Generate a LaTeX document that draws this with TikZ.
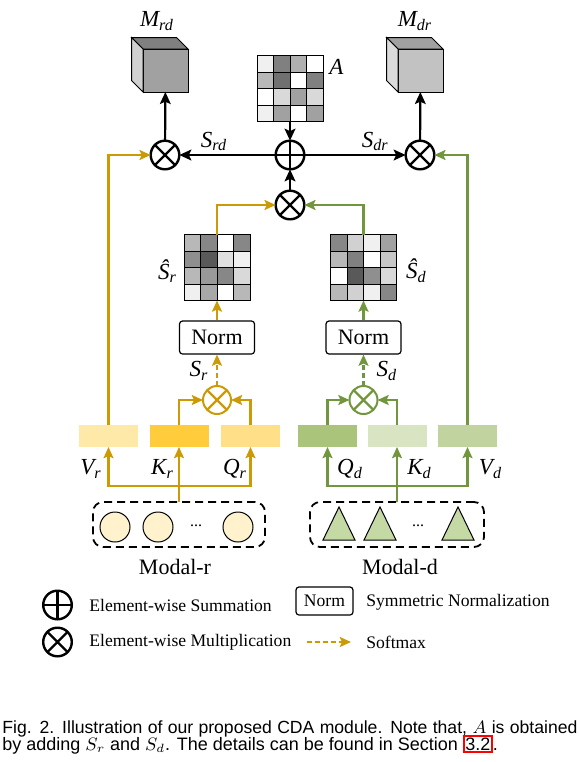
\documentclass[tikz,border=0pt]{standalone}
\usepackage{fontspec}
\setmainfont{Liberation Serif}
\newfontfamily\capfont{Liberation Sans}
\usetikzlibrary{arrows.meta,positioning,calc}

\definecolor{gold}{HTML}{CC9A06}
\definecolor{leaf}{HTML}{72963E}
\definecolor{vrfill}{HTML}{FFE9A8}
\definecolor{krfill}{HTML}{FFCD3C}
\definecolor{qrfill}{HTML}{FFDF88}
\definecolor{qdfill}{HTML}{ABC47C}
\definecolor{kdfill}{HTML}{D8E4C2}
\definecolor{vdfill}{HTML}{C1D49F}
\definecolor{tokfill}{HTML}{FFF2CC}
\definecolor{trifill}{HTML}{C5D9A4}

% 4x4 grey matrix drawn over a named node
\newcommand{\graygrid}[2]{%
  \foreach \rowvals [count=\r] in {#2} {
    \foreach \v [count=\q] in \rowvals
      \filldraw[cell, fill=black!\v] ($(#1.north west)+(\q*16.5-16.5,\r*16.5-16.5)$) rectangle ++(16.5,16.5);
  }}
% top and side faces of a cube whose front face is a node
\newcommand{\cubefaces}[3]{%
  \filldraw[edge, fill=#2] (#1.north west) -- ++(-11.5,-11.5) -- ++(45,0) -- (#1.north east) -- cycle;
  \filldraw[edge, fill=#3] (#1.north west) -- ++(-11.5,-11.5) -- ++(0,43) -- (#1.south west) -- cycle;}

\begin{document}
\begin{tikzpicture}[x=0.5pt, y=-0.5pt,
    >={Stealth[length=6pt,width=5.4pt,inset=1.2pt]},
    op/.style={circle, draw=#1, line width=1.2pt, minimum size=14.3pt, inner sep=0pt, outer sep=0pt},
    mul/.style={op=#1, path picture={\draw[#1, line width=1.2pt]
        (path picture bounding box.north west) -- (path picture bounding box.south east)
        (path picture bounding box.north east) -- (path picture bounding box.south west);}},
    mul/.default=black,
    smallmul/.style={mul=#1, line width=1pt, minimum size=14pt},
    add/.style={op=black, path picture={\draw[line width=1.2pt]
        (path picture bounding box.north) -- (path picture bounding box.south)
        (path picture bounding box.west) -- (path picture bounding box.east);}},
    conn/.style={line width=1.1pt, ->},
    goldline/.style={gold, line width=1.05pt, -{Stealth[length=5.6pt,width=5pt,inset=1.1pt]}},
    leafline/.style={leaf, line width=1.05pt, -{Stealth[length=5.6pt,width=5pt,inset=1.1pt]}},
    soft/.style={dash pattern=on 2.4pt off 1.6pt},
    face/.style={draw, line width=0.5pt, minimum width=22.5pt, minimum height=21.5pt, inner sep=0pt, outer sep=0pt},
    edge/.style={draw, line width=0.5pt},
    mat/.style={minimum size=33pt, inner sep=0pt, outer sep=0pt},
    cell/.style={draw=black, line width=0.5pt},
    bar/.style={minimum width=29.5pt, minimum height=11pt, inner sep=0pt, outer sep=0pt},
    norm/.style={draw, rounded corners=1.5pt, line width=0.6pt, minimum width=37.5pt, minimum height=16.5pt,
        inner sep=0pt, font=\fontsize{11}{13}\selectfont},
    modal/.style={draw, dash pattern=on 4pt off 2.5pt, line width=0.9pt, rounded corners=5pt,
        minimum width=86pt, minimum height=22.5pt, inner sep=0pt, outer sep=0pt},
    token/.style={circle, draw, line width=0.5pt, fill=tokfill, minimum size=15pt, inner sep=0pt},
    tri/.style={draw, line width=0.5pt, fill=trifill},
    lbl/.style={font=\fontsize{11.5}{13}\selectfont\itshape, inner sep=0pt},
    txt/.style={font=\fontsize{11}{13}\selectfont, inner sep=0pt},
    dots/.style={font=\fontsize{8}{8}\selectfont, anchor=base, inner sep=0pt},
    legtxt/.style={font=\fontsize{8.8}{10}\selectfont, anchor=west, inner sep=0pt},
    captxt/.style={font=\capfont\fontsize{9}{11}\selectfont, anchor=base west, inner sep=0pt},
  ]
  \useasboundingbox (0,0) rectangle (579,762);

  % output cubes
  \node[face, fill=black!37] (Mrd) at (165.5,70.5) {};
  \cubefaces{Mrd}{black!50}{black!18}
  \node[face, fill=black!24] (Mdr) at (420.5,70.5) {};
  \cubefaces{Mdr}{black!37}{black!14}
  \node[lbl] at (157,21) {M\textsubscript{rd}};
  \node[lbl] at (415,21) {M\textsubscript{dr}};

  % adjacency A
  \node[mat] (A) at (290,88.5) {};
  \graygrid{A}{{6,50,31,0},{28,56,0,50},{0,15,37,15},{6,37,0,37}}
  \node[lbl] at (336.5,67) {A};

  % fusion row
  \node[mul] (mrd) at (165,155) {};
  \node[add] (sum) at (290,155) {};
  \node[mul] (mdr) at (420,155) {};
  \node[mul] (mss) at (290,205) {};
  \draw[conn] (mrd) -- (Mrd);
  \draw[conn] (mdr) -- (Mdr);
  \draw[conn] (A) -- (sum);
  \draw[conn] (sum) -- (mrd) node[lbl, pos=0.64, above=1.5pt] {S\textsubscript{rd}};
  \draw[conn] (sum) -- (mdr) node[lbl, pos=0.7, above=1.5pt] {S\textsubscript{dr}};
  \draw[conn] (mss) -- (sum);

  % normalised similarity matrices
  \node[mat] (Srh) at (217,267.5) {};
  \graygrid{Srh}{{28,47,0,47},{44,65,12,6},{28,40,47,15},{6,34,0,28}}
  \node[mat] (Sdh) at (363.5,267.5) {};
  \graygrid{Sdh}{{47,18,6,37},{28,50,0,22},{0,65,44,15},{28,18,6,47}}
  \node[lbl] at (167.5,271) {\^{S}\textsubscript{r}};
  \node[lbl] at (416.5,271) {\^{S}\textsubscript{d}};
  \draw[goldline] (Srh.north) |- (mss.west);
  \draw[leafline] (Sdh.north) |- (mss.east);

  \node[norm] (normr) at (217,337.5) {Norm};
  \node[norm] (normd) at (363.5,337.5) {Norm};
  \draw[goldline] (normr) -- (Srh);
  \draw[leafline] (normd) -- (Sdh);

  % query-key products
  \node[smallmul=gold] (mr) at (217,400) {};
  \node[smallmul=leaf] (md) at (363.5,400) {};
  \draw[goldline, soft] (mr) -- (normr);
  \draw[leafline, soft] (md) -- (normd);
  \node[lbl] at (199,371) {S\textsubscript{r}};
  \node[lbl] at (387,371) {S\textsubscript{d}};

  % Q, K, V features
  \node[bar, fill=vrfill] (Vr) at (108.5,436) {};
  \node[bar, fill=krfill] (Kr) at (179,436) {};
  \node[bar, fill=qrfill] (Qr) at (250.5,436) {};
  \node[bar, fill=qdfill] (Qd) at (327.5,436) {};
  \node[bar, fill=kdfill] (Kd) at (397,436) {};
  \node[bar, fill=vdfill] (Vd) at (467.5,436) {};
  \draw[goldline] (Kr.north) |- (mr.west);
  \draw[goldline] (Qr.north) |- (mr.east);
  \draw[leafline] (Qd.north) |- (md.west);
  \draw[leafline] (Kd.north) |- (md.east);
  \draw[goldline] (Vr.north) |- (mrd.west);
  \draw[leafline] (Vd.north) |- (mdr.east);
  \node[lbl] at (91,469) {V\textsubscript{r}};
  \node[lbl] at (162.5,469) {K\textsubscript{r}};
  \node[lbl] at (235,469) {Q\textsubscript{r}};
  \node[lbl] at (350,469) {Q\textsubscript{d}};
  \node[lbl] at (419.5,469) {K\textsubscript{d}};
  \node[lbl] at (490.5,469) {V\textsubscript{d}};

  % modal inputs
  \node[modal] (boxr) at (179,524.5) {};
  \node[modal, minimum width=87pt] (boxd) at (397,524.5) {};
  \foreach \x [count=\i] in {115,158,238}
    \node[token] (r\i) at (\x,527) {};
  \node[dots] at (196,526) {...};
  \foreach \x in {339,380,458}
    \filldraw[tri] (\x,507) -- (\x+16,540) -- (\x-16,540) -- cycle;
  \node[dots] at (418,526) {...};
  \node[txt] at (175,567) {Modal-r};
  \node[txt] at (400,567) {Modal-d};

  \coordinate (jr) at (179,486);
  \coordinate (jd) at (397,486);
  \draw[goldline] (boxr) -- (Kr);
  \draw[goldline] (jr) -| (Vr.south);
  \draw[goldline] (jr) -| (Qr.south);
  \draw[leafline] (boxd) -- (Kd);
  \draw[leafline] (jd) -| (Qd.south);
  \draw[leafline] (jd) -| (Vd.south);

  % legend
  \node[add] (legadd) at (57.5,605) {};
  \node[mul] (legmul) at (57.5,642) {};
  \node[legtxt] at (89,605) {Element-wise Summation};
  \node[legtxt] at (89,642) {Element-wise Multiplication};
  \node[norm, minimum width=28.5pt, minimum height=14pt, font=\fontsize{8.8}{10}\selectfont] (legnorm) at (324.5,601) {Norm};
  \node[legtxt] at (366,602) {Symmetric Normalization};
  \coordinate (sm0) at (307,642);
  \coordinate (sm1) at (351,642);
  \draw[goldline, soft] (sm0) -- (sm1);
  \node[legtxt] at (366,642) {Softmax};

  % caption
  \node[captxt, font=\capfont\fontsize{8.8}{11}\selectfont] (cap1) at (2,733)
    {\makebox[287.5pt][s]{Fig. 2. Illustration of our proposed CDA module. Note that, $A$ is obtained}};
  \node[captxt] (cap2) at (2,750)
    {by adding $S_r$ and $S_d$. The details can be found in Section {\fboxsep=0.4pt\fboxrule=0.8pt\fcolorbox{red}{white}{3.2}}.};
\end{tikzpicture}
\end{document}
